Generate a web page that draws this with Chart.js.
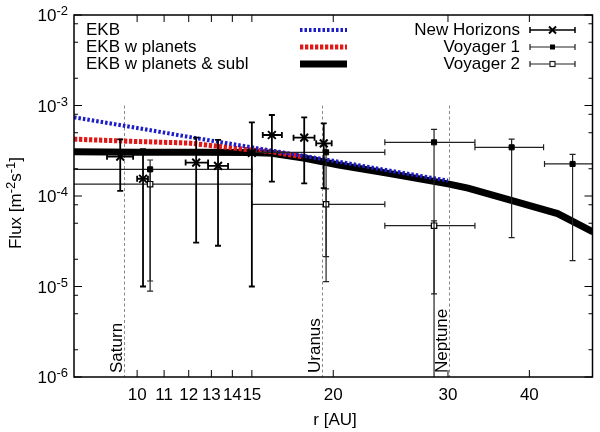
<!DOCTYPE html>
<html>
<head>
<meta charset="utf-8">
<script src="https://cdn.jsdelivr.net/npm/chart.js@4.4.1/dist/chart.umd.min.js"></script>
<style>
  html, body { margin: 0; padding: 0; background: #fff; }
  #wrap { width: 600px; height: 432px; }
</style>
</head>
<body>
<div id="wrap"><canvas id="fluxChart"></canvas></div>
<script>
// model curves: r [AU] vs flux [m^-2 s^-1]
var ekbR = [8, 10, 12, 15, 20, 25, 30];
var ekbFlux = [7.4e-4, 5.65e-4, 4.5e-4, 3.45e-4, 2.45e-4, 1.85e-4, 1.48e-4];

var planetsR = [8, 10, 12, 13.5, 14.7, 16, 18];
var planetsFlux = [4.25e-4, 4.0e-4, 3.85e-4, 3.5e-4, 3.27e-4, 3.1e-4, 2.7e-4];

var sublR = [8, 10, 12.3, 15, 16.1, 18.1, 20.4, 24.3, 30, 32.2, 37.4, 44.2, 50.1];
var sublFlux = [3.08e-4, 3.04e-4, 3.05e-4, 3.03e-4, 2.96e-4, 2.61e-4, 2.2e-4, 1.78e-4, 1.36e-4, 1.22e-4, 9.0e-5, 6.4e-5, 4.0e-5];

// New Horizons
var nhR = [9.42, 10.21, 12.32, 13.31, 15.0, 16.1, 18.05, 19.34];
var nhRLo = [8.99, 10.0, 11.87, 12.85, 14.85, 15.59, 17.38, 18.83];
var nhRHi = [9.86, 10.39, 12.85, 13.79, 15.15, 16.68, 18.72, 19.89];
var nhFlux = [2.72e-4, 1.55e-4, 2.34e-4, 2.15e-4, 3.0e-4, 4.72e-4, 4.41e-4, 3.82e-4];
var nhFluxLo = [1.14e-4, 1.0e-5, 3.05e-5, 2.82e-5, 1.0e-5, 1.44e-4, 1.38e-4, 1.22e-4];
var nhFluxHi = [4.23e-4, 3.3e-4, 4.41e-4, 4.16e-4, 6.5e-4, 7.85e-4, 7.41e-4, 6.36e-4];

// Voyager 1
var v1R = [10.47, 19.5, 28.56, 37.57, 46.6];
var v1RLo = [6.0, 15.0, 24.0, 33.0, 42.2];
var v1RHi = [15.0, 24.0, 33.0, 42.06, 51.5];
var v1Flux = [1.97e-4, 3.04e-4, 3.92e-4, 3.45e-4, 2.26e-4];
var v1FluxLo = [1.15e-5, 2.14e-5, 8.3e-6, 3.46e-5, 1.93e-5];
var v1FluxHi = [2.5e-4, 3.8e-4, 5.46e-4, 4.26e-4, 2.89e-4];

// Voyager 2
var v2R = [10.47, 19.5, 28.56];
var v2RLo = [6.0, 15.0, 24.0];
var v2RHi = [15.0, 24.0, 33.0];
var v2Flux = [1.35e-4, 8.1e-5, 4.7e-5];
var v2FluxLo = [8.9e-6, 1.13e-5, 5e-7];
var v2FluxHi = [1.9e-4, 1.2e-4, 5.3e-5];

// axes
var xTicks = [10, 11, 12, 13, 14, 15, 20, 30, 40];
var yTickExp = [-6, -5, -4, -3, -2];
var yMinorSteps = [2, 5, 8];
var planetNames = ['Saturn', 'Uranus', 'Neptune'];
var planetR = [9.54, 19.19, 30.07];

var FONT = '"Liberation Sans", Arial, sans-serif';
var BLUE = '#1c1cc8';
var RED = '#e01818';

function toPoints(xs, ys) {
  return xs.map(function (x, i) { return { x: x, y: ys[i] }; });
}

// error bars, drawn just before the markers of each data set
var errorBars = {
  id: 'errorBars',
  beforeDatasetDraw: function (chart, args) {
    var ds = chart.data.datasets[args.index];
    if (!ds.errX) return;
    var xs = chart.scales.x, ys = chart.scales.y, a = chart.chartArea;
    var ctx = chart.ctx, c = ds.capSize;
    ctx.save();
    ctx.beginPath();
    ctx.rect(a.left, a.top, a.right - a.left, a.bottom - a.top);
    ctx.clip();
    ctx.strokeStyle = ds.errColor;
    ctx.lineWidth = ds.errWidth;
    ds.data.forEach(function (p, i) {
      var px = xs.getPixelForValue(p.x), py = ys.getPixelForValue(p.y);
      var x0 = xs.getPixelForValue(ds.errX[0][i]), x1 = xs.getPixelForValue(ds.errX[1][i]);
      var y0 = ys.getPixelForValue(ds.errY[0][i]), y1 = ys.getPixelForValue(ds.errY[1][i]);
      ctx.beginPath();
      ctx.moveTo(x0, py); ctx.lineTo(x1, py);
      ctx.moveTo(x0, py - c); ctx.lineTo(x0, py + c);
      ctx.moveTo(x1, py - c); ctx.lineTo(x1, py + c);
      ctx.moveTo(px, y0); ctx.lineTo(px, y1);
      ctx.moveTo(px - c, y0); ctx.lineTo(px + c, y0);
      ctx.moveTo(px - c, y1); ctx.lineTo(px + c, y1);
      ctx.stroke();
    });
    ctx.restore();
  }
};

// dashed planet orbits with names
var planetLines = {
  id: 'planetLines',
  beforeDatasetsDraw: function (chart) {
    var ctx = chart.ctx, xs = chart.scales.x, ys = chart.scales.y, a = chart.chartArea;
    ctx.save();
    planetR.forEach(function (r, i) {
      var x = Math.round(xs.getPixelForValue(r)) + 0.5;
      ctx.strokeStyle = '#8a8a8a';
      ctx.lineWidth = 1;
      ctx.setLineDash([3, 2.5]);
      ctx.beginPath();
      ctx.moveTo(x, ys.getPixelForValue(1e-3));
      ctx.lineTo(x, a.bottom);
      ctx.stroke();
      ctx.save();
      ctx.translate(x - 2.5, a.bottom - 4);
      ctx.rotate(-Math.PI / 2);
      ctx.fillStyle = '#000';
      ctx.font = '17px ' + FONT;
      ctx.textAlign = 'left';
      ctx.textBaseline = 'alphabetic';
      ctx.fillText(planetNames[i], 0, 0);
      ctx.restore();
    });
    ctx.restore();
  }
};

// drawn text with superscripts, returns width
function drawSup(ctx, parts, x, y, measureOnly) {
  var w = 0;
  parts.forEach(function (p) {
    ctx.font = (p.sup ? '13px ' : '17px ') + FONT;
    if (!measureOnly) ctx.fillText(p.t, x + w, p.sup ? y - 6 : y);
    w += ctx.measureText(p.t).width;
  });
  return w;
}

// frame, inward ticks, labels, titles and key
var frame = {
  id: 'frame',
  afterDraw: function (chart) {
    var ctx = chart.ctx, xs = chart.scales.x, ys = chart.scales.y, a = chart.chartArea;
    ctx.save();
    ctx.strokeStyle = '#000';
    ctx.fillStyle = '#000';
    ctx.lineWidth = 1.5;
    ctx.strokeRect(a.left, a.top, a.right - a.left, a.bottom - a.top);

    ctx.lineWidth = 1;
    ctx.beginPath();
    xTicks.forEach(function (t) {
      var x = xs.getPixelForValue(t);
      ctx.moveTo(x, a.bottom); ctx.lineTo(x, a.bottom - 7);
      ctx.moveTo(x, a.top); ctx.lineTo(x, a.top + 7);
    });
    yTickExp.forEach(function (e) {
      var y = ys.getPixelForValue(Math.pow(10, e));
      ctx.moveTo(a.left, y); ctx.lineTo(a.left + 8, y);
      ctx.moveTo(a.right, y); ctx.lineTo(a.right - 8, y);
      if (e < -2) {
        yMinorSteps.forEach(function (m) {
          var ym = ys.getPixelForValue(m * Math.pow(10, e));
          ctx.moveTo(a.left, ym); ctx.lineTo(a.left + 4, ym);
          ctx.moveTo(a.right, ym); ctx.lineTo(a.right - 4, ym);
        });
      }
    });
    ctx.stroke();

    ctx.font = '17px ' + FONT;
    ctx.textAlign = 'center';
    ctx.textBaseline = 'middle';
    xTicks.forEach(function (t) {
      ctx.fillText(String(t), xs.getPixelForValue(t), 395);
    });
    ctx.fillText('r [AU]', 335, 420);

    ctx.textAlign = 'left';
    ctx.textBaseline = 'alphabetic';
    yTickExp.forEach(function (e) {
      var y = ys.getPixelForValue(Math.pow(10, e)) + 6;
      var parts = [{ t: '10', sup: false }, { t: String(e), sup: true }];
      var w = drawSup(ctx, parts, 0, 0, true);
      drawSup(ctx, parts, 68 - w, y, false);
    });

    var title = [{ t: 'Flux [m', sup: false }, { t: '-2', sup: true }, { t: 's', sup: false },
                 { t: '-1', sup: true }, { t: ']', sup: false }];
    var tw = drawSup(ctx, title, 0, 0, true);
    ctx.save();
    ctx.translate(21, 203);
    ctx.rotate(-Math.PI / 2);
    drawSup(ctx, title, -tw / 2, 0, false);
    ctx.restore();

    // key for the curves
    var rows = [30, 47, 64];
    var curveNames = ['EKB', 'EKB w planets', 'EKB w planets & subl'];
    var curveStyles = [[BLUE, 4, [2.5, 2]], [RED, 5, [3.3, 1.7]], ['#000', 7, []]];
    ctx.font = '17px ' + FONT;
    ctx.textBaseline = 'middle';
    curveNames.forEach(function (n, i) {
      ctx.textAlign = 'left';
      ctx.fillStyle = '#000';
      ctx.fillText(n, 86, rows[i]);
      ctx.strokeStyle = curveStyles[i][0];
      ctx.lineWidth = curveStyles[i][1];
      ctx.setLineDash(curveStyles[i][2]);
      ctx.beginPath();
      ctx.moveTo(300, rows[i]); ctx.lineTo(347, rows[i]);
      ctx.stroke();
    });
    ctx.setLineDash([]);

    // key for the measurements
    var dataNames = ['New Horizons', 'Voyager 1', 'Voyager 2'];
    dataNames.forEach(function (n, i) {
      var y = rows[i];
      ctx.textAlign = 'right';
      ctx.fillStyle = '#000';
      ctx.fillText(n, 520, y);
      ctx.strokeStyle = i === 0 ? '#000' : '#222';
      ctx.lineWidth = i === 0 ? 1.5 : 1.2;
      ctx.beginPath();
      ctx.moveTo(530, y); ctx.lineTo(575, y);
      ctx.moveTo(530, y - 3); ctx.lineTo(530, y + 3);
      ctx.moveTo(575, y - 3); ctx.lineTo(575, y + 3);
      ctx.stroke();
      var mx = 552.5;
      if (i === 0) {
        ctx.lineWidth = 2;
        ctx.beginPath();
        ctx.moveTo(mx - 3.5, y - 3.5); ctx.lineTo(mx + 3.5, y + 3.5);
        ctx.moveTo(mx - 3.5, y + 3.5); ctx.lineTo(mx + 3.5, y - 3.5);
        ctx.stroke();
      } else if (i === 1) {
        ctx.fillRect(mx - 2.5, y - 2.5, 5, 5);
      } else {
        ctx.fillStyle = '#fff';
        ctx.fillRect(mx - 2.5, y - 2.5, 5, 5);
        ctx.lineWidth = 1.2;
        ctx.strokeRect(mx - 2.5, y - 2.5, 5, 5);
      }
    });
    ctx.restore();
  }
};

var ctx = document.getElementById('fluxChart').getContext('2d');
var fluxChart = new Chart(ctx, {
  type: 'scatter',
  data: {
    datasets: [
      {
        label: 'EKB w planets & subl',
        data: toPoints(sublR, sublFlux),
        showLine: true, borderColor: '#000', borderWidth: 7,
        pointRadius: 0, order: 3
      },
      {
        label: 'EKB w planets',
        data: toPoints(planetsR, planetsFlux),
        showLine: true, borderColor: RED, borderWidth: 5, borderDash: [3.3, 1.7],
        pointRadius: 0, order: 2
      },
      {
        label: 'EKB',
        data: toPoints(ekbR, ekbFlux),
        showLine: true, borderColor: BLUE, borderWidth: 4, borderDash: [2.5, 2],
        pointRadius: 0, order: 1
      },
      {
        label: 'New Horizons',
        data: toPoints(nhR, nhFlux),
        errX: [nhRLo, nhRHi], errY: [nhFluxLo, nhFluxHi],
        errColor: '#000', errWidth: 1.8, capSize: 3,
        pointStyle: 'crossRot', pointRadius: 5.5, borderColor: '#000', borderWidth: 2,
        order: 0
      },
      {
        label: 'Voyager 1',
        data: toPoints(v1R, v1Flux),
        errX: [v1RLo, v1RHi], errY: [v1FluxLo, v1FluxHi],
        errColor: '#222', errWidth: 1.2, capSize: 3,
        pointStyle: 'rect', pointRadius: 3.6, backgroundColor: '#000', borderColor: '#000', borderWidth: 1,
        order: 0
      },
      {
        label: 'Voyager 2',
        data: toPoints(v2R, v2Flux),
        errX: [v2RLo, v2RHi], errY: [v2FluxLo, v2FluxHi],
        errColor: '#222', errWidth: 1.2, capSize: 3,
        pointStyle: 'rect', pointRadius: 3.8, backgroundColor: '#fff', borderColor: '#000', borderWidth: 1.2,
        order: 0
      }
    ]
  },
  options: {
    responsive: true,
    maintainAspectRatio: false,
    animation: false,
    layout: { padding: { left: 74, top: 15, right: 4, bottom: 55 } },
    scales: {
      x: { type: 'logarithmic', min: 8, max: 50, display: false },
      y: { type: 'logarithmic', min: 1e-6, max: 1e-2, display: false }
    },
    plugins: {
      legend: { display: false },
      tooltip: { enabled: false }
    }
  },
  plugins: [planetLines, errorBars, frame]
});
</script>
</body>
</html>
